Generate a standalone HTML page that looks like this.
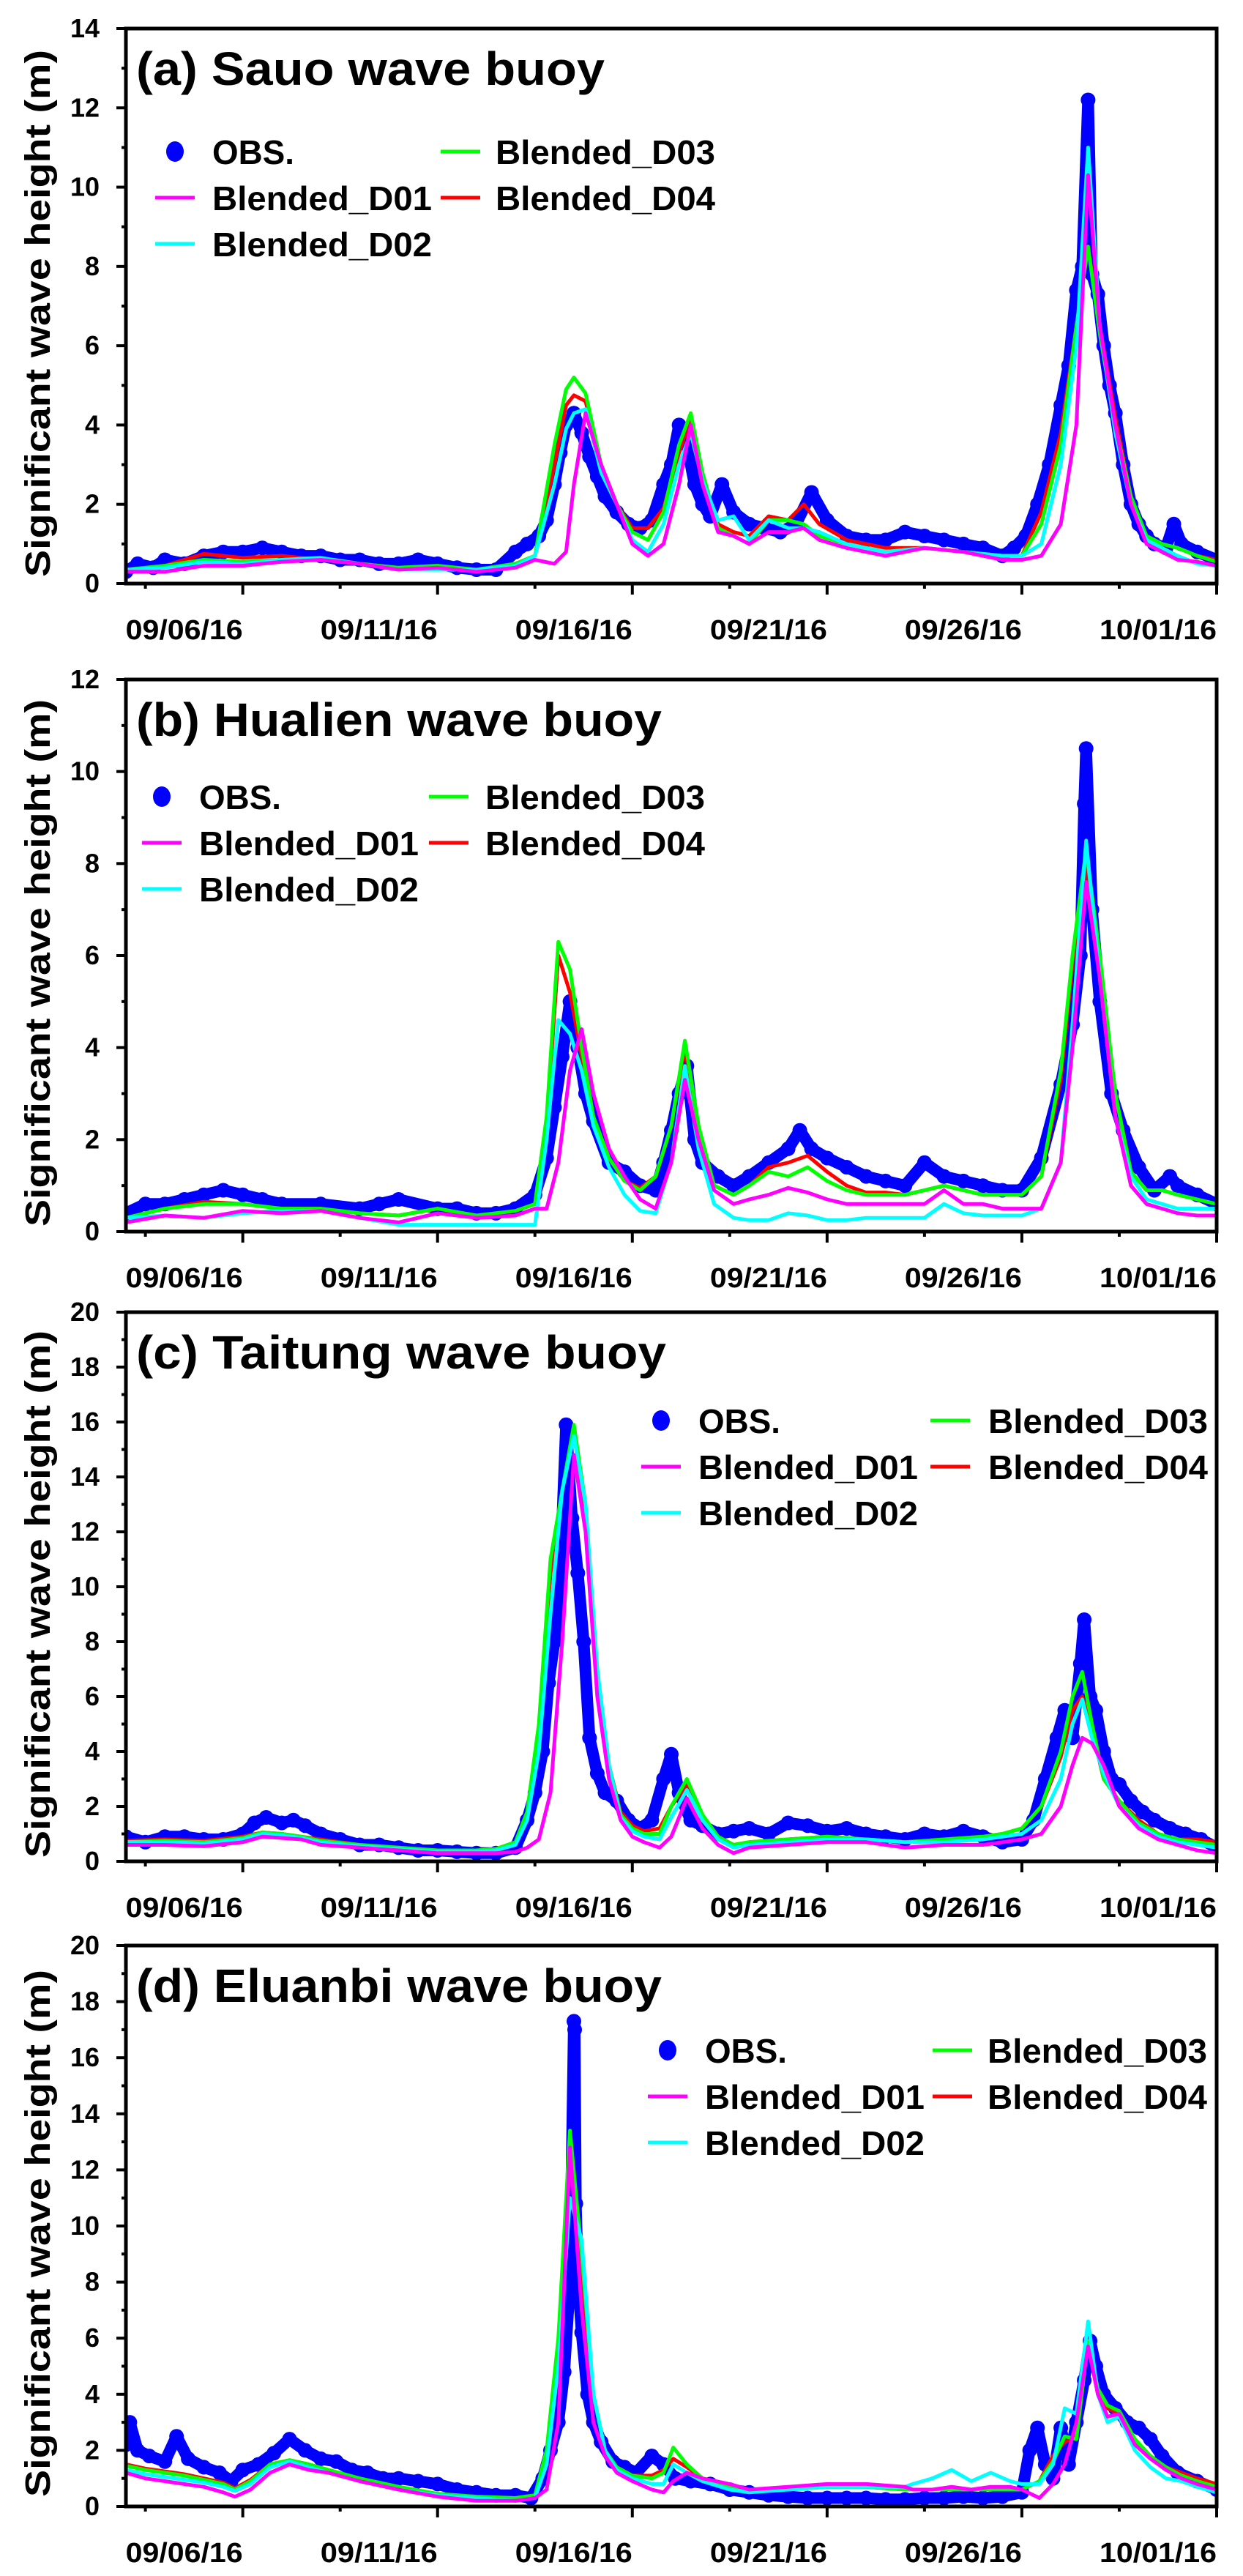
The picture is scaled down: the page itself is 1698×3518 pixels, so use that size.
<!DOCTYPE html>
<html><head><meta charset="utf-8"><style>
html,body{margin:0;padding:0;background:#fff;}
svg{display:block;}
text{font-family:"Liberation Sans Narrow","Liberation Sans",sans-serif;font-weight:bold;fill:#000;}
.yt{font-family:"Liberation Sans",sans-serif;}
</style></head><body>
<svg id="fig" xmlns="http://www.w3.org/2000/svg" width="1698" height="3518" viewBox="0 0 1698 3518"></svg>
<script>
// ---------- data (time in day-of-September; 31 = 10/01) ----------
const xTickDays = [6, 11, 16, 21, 26, 31];
const xTickLabels = ["09/06/16", "09/11/16", "09/16/16", "09/21/16", "09/26/16", "10/01/16"];
const seriesNames = ["Blended_D01", "Blended_D02", "Blended_D03", "Blended_D04"];

// Panel (a) Sauo
const timeA = [3,4,5,6,7,8,9,10,11,12,13,13.5,14,14.3,14.5,14.8,15.2,15.6,16,16.4,16.8,17.2,17.5,17.8,18.2,18.6,19,19.5,20,20.4,20.8,21.5,22.5,23.5,24.5,25.5,26,26.5,27,27.4,27.7,28,28.4,28.8,29.2,29.6,30,30.5,31];
const d01A = [.3,.3,.45,.45,.55,.6,.5,.35,.4,.3,.4,.6,.5,.8,2.5,4.3,3.0,2.0,1.0,.7,1.0,2.5,4.0,2.5,1.3,1.2,1.0,1.3,1.3,1.4,1.1,.9,.7,.9,.8,.6,.6,.7,1.5,4.0,10.3,6.5,4.0,2.0,1.0,.8,.6,.55,.45];
const d02A = [.35,.4,.55,.5,.6,.65,.5,.35,.35,.35,.45,.7,2.5,3.9,4.3,4.4,2.8,2.0,1.1,.8,1.5,3.0,3.8,2.6,1.6,1.7,1.1,1.6,1.4,1.4,1.3,1.0,.8,.9,.8,.7,.7,1.0,3.0,6.0,11.0,6.5,3.8,2.0,1.1,.9,.7,.5,.45];
const d03A = [.35,.45,.6,.55,.6,.6,.5,.4,.45,.35,.5,.7,3.5,4.9,5.2,4.8,3.0,2.0,1.3,1.1,1.8,3.5,4.3,2.8,1.4,1.2,1.0,1.6,1.6,1.5,1.2,1.0,.8,.9,.8,.7,.7,1.5,3.5,6.5,8.5,6.3,4.0,2.2,1.2,1.0,.9,.7,.55];
const d04A = [.35,.45,.75,.65,.7,.6,.5,.4,.45,.35,.5,.7,3.0,4.5,4.75,4.6,3.0,2.0,1.4,1.4,1.9,3.3,4.2,2.7,1.5,1.3,1.2,1.7,1.6,2.0,1.5,1.1,.9,.9,.8,.7,.7,1.8,3.8,6.5,8.5,6.5,4.2,2.2,1.2,1.0,.9,.7,.6];
const obsTimeA = [3,3.3,3.7,4,4.5,5,5.5,6,6.5,7,7.5,8,8.5,9,9.5,10,10.5,11,11.5,12,12.5,13,13.3,13.6,13.8,14,14.15,14.3,14.5,14.7,14.9,15.1,15.3,15.6,15.9,16.2,16.5,16.8,17.0,17.2,17.4,17.6,17.8,18.0,18.3,18.6,19,19.4,19.8,20.2,20.6,21,21.5,22,22.5,23,23.5,24,24.5,25,25.5,25.8,26.1,26.4,26.7,27,27.2,27.4,27.55,27.7,27.8,27.95,28.1,28.25,28.4,28.6,28.8,29,29.2,29.4,29.7,29.9,30.1,30.5,31];
const obsA = [.3,.5,.4,.6,.5,.7,.8,.8,.9,.8,.7,.7,.6,.6,.5,.5,.6,.5,.4,.35,.35,.8,1.0,1.2,1.6,2.5,3.3,4.0,4.3,3.8,3.2,2.7,2.2,1.8,1.5,1.4,1.6,2.5,3.0,4.0,3.5,2.5,2.0,1.7,2.5,1.8,1.5,1.4,1.3,1.5,2.3,1.6,1.2,1.1,1.1,1.3,1.2,1.1,1.0,.9,.7,.9,1.2,2.0,3.0,4.5,5.5,7.4,8.0,12.2,7.8,7.3,6.0,5.0,4.3,3.0,2.0,1.5,1.2,1.0,.9,1.5,1.0,.8,.6];

// Panel (b) Hualien
const timeB = [3,4,5,6,7,8,9,10,11,12,13,13.5,13.8,14.1,14.4,14.7,15,15.4,15.8,16.2,16.6,17,17.35,17.7,18.1,18.6,19,19.5,20,20.5,21,21.5,22,22.5,23,23.5,24,24.5,25,25.5,26,26.5,27,27.3,27.65,28,28.4,28.8,29.2,29.6,30,30.5,31];
const d01B = [.2,.35,.3,.45,.4,.45,.3,.2,.4,.3,.35,.5,.5,1.5,3.5,4.4,3.0,1.8,1.2,.7,.5,1.5,3.3,2.0,.9,.6,.7,.8,.95,.85,.7,.6,.6,.6,.6,.6,.9,.6,.6,.5,.5,.5,1.5,4.0,7.6,5.5,2.5,1.0,.6,.5,.4,.35,.35];
const d02B = [.3,.35,.3,.4,.45,.45,.3,.15,.15,.15,.15,.15,2.0,4.6,4.3,3.5,2.3,1.4,.8,.45,.4,1.5,3.6,1.8,.6,.3,.25,.25,.4,.35,.25,.25,.3,.3,.3,.3,.6,.4,.35,.35,.35,.5,1.5,4.5,8.5,5.5,2.5,1.2,.7,.6,.5,.5,.5];
const d03B = [.3,.5,.6,.6,.5,.5,.4,.35,.5,.35,.45,.6,2.5,6.3,5.7,4.0,2.5,1.6,1.1,.9,1.2,2.3,4.15,2.3,1.0,.8,1.0,1.3,1.2,1.4,1.1,.9,.8,.8,.8,.9,1.0,.9,.8,.8,.8,1.2,3.5,6.0,8.3,6.0,3.0,1.3,.9,.9,.8,.7,.6];
const d04B = [.3,.5,.65,.6,.5,.5,.4,.35,.5,.35,.45,.6,2.3,6.0,5.2,3.8,2.4,1.6,1.1,.95,1.2,2.3,4.0,2.2,1.0,.8,1.0,1.4,1.5,1.65,1.3,1.0,.85,.85,.8,.9,1.0,.9,.8,.8,.8,1.2,3.3,5.8,8.0,5.8,3.0,1.3,.9,.9,.8,.7,.6];
const obsTimeB = [3,3.5,4,4.5,5,5.5,6,6.5,7,8,9,9.5,10,11,11.5,12,12.5,13,13.5,13.8,14.0,14.2,14.4,14.6,14.8,15,15.4,15.8,16.2,16.6,16.8,17,17.2,17.4,17.6,17.8,18.2,18.6,19,19.5,20,20.3,20.6,21,21.5,22,22.5,23,23.5,24,24.5,25,25.5,26,26.5,27,27.3,27.5,27.6,27.65,27.8,28,28.3,28.6,29,29.4,29.8,30,30.5,31];
const obsB = [.4,.6,.6,.7,.8,.9,.8,.7,.6,.6,.5,.6,.7,.5,.5,.4,.4,.5,.8,1.6,2.7,3.8,5.0,4.0,3.0,2.4,1.5,1.3,1.0,.9,1.5,2.2,3.0,3.6,2.0,1.5,1.2,1.0,1.2,1.5,1.8,2.2,1.8,1.6,1.4,1.2,1.1,1.0,1.5,1.2,1.1,1.0,.9,.9,1.6,3.2,4.5,6.0,9.3,10.5,7.0,5.0,3.0,2.2,1.4,.9,1.2,1.0,.8,.6];

// Panel (c) Taitung
const timeC = [3,4,5,6,6.5,7,7.5,8,9,10,11,12,12.5,13,13.3,13.6,13.9,14.2,14.5,14.8,15.1,15.4,15.7,16,16.3,16.7,17,17.4,17.8,18.2,18.6,19,20,21,22,23,24,25,25.5,26,26.5,27,27.3,27.55,27.8,28.1,28.5,29,29.5,30,30.5,31];
const d01C = [.6,.6,.55,.7,.9,.85,.8,.6,.5,.4,.3,.3,.3,.35,.5,.8,2.5,8.0,14.8,12.0,6.0,3.0,1.5,.9,.7,.5,.9,2.3,1.2,.6,.3,.5,.6,.7,.7,.5,.6,.6,.7,.8,1.0,2.0,3.5,4.5,4.3,3.5,2.0,1.2,.8,.6,.4,.3];
const d02C = [.7,.7,.65,.8,1.0,.95,.85,.7,.55,.45,.35,.35,.4,.6,1.5,4.0,9.0,13.5,15.5,13.0,7.0,3.5,1.6,1.1,.9,.8,1.6,2.6,1.5,.8,.5,.6,.7,.8,.8,.7,.7,.8,.9,1.0,1.5,3.0,5.0,5.9,4.5,3.2,2.0,1.3,.9,.7,.6,.5];
const d03C = [.7,.75,.7,.85,1.05,1.0,.9,.75,.6,.5,.4,.4,.45,.7,1.8,5.0,11.0,13.5,15.9,13.0,7.0,3.5,1.7,1.2,1.0,1.0,2.0,3.0,1.7,.9,.6,.7,.8,.9,.8,.7,.8,.9,1.0,1.2,2.0,4.0,6.0,6.9,5.0,3.0,2.2,1.4,1.0,.8,.7,.6];
const d04C = [.75,.8,.75,.9,1.05,1.0,.9,.8,.6,.5,.4,.4,.45,.7,1.7,4.8,10.5,13.5,15.6,12.5,6.8,3.5,1.8,1.3,1.1,1.2,2.0,2.8,1.6,.9,.6,.7,.8,.9,.8,.7,.8,.9,1.0,1.2,2.0,3.8,5.5,6.0,4.8,3.0,2.2,1.5,1.0,.8,.8,.7];
const obsTimeC = [3,3.5,4,4.5,5,5.5,6,6.3,6.6,7,7.3,7.6,8,8.5,9,9.5,10,10.5,11,11.5,12,12.5,13,13.3,13.5,13.7,13.85,14,14.15,14.3,14.45,14.6,14.75,14.9,15.1,15.3,15.6,15.9,16.2,16.5,16.8,17,17.2,17.5,17.8,18.2,18.6,19,19.5,20,20.5,21,21.5,22,22.5,23,23.5,24,24.5,25,25.5,26,26.3,26.6,26.9,27.1,27.3,27.5,27.6,27.75,27.9,28.1,28.3,28.5,28.8,29.1,29.4,29.8,30.2,30.6,31];
const obsC = [.9,.7,.9,.9,.8,.8,1.0,1.4,1.6,1.4,1.5,1.3,1.0,.8,.6,.6,.5,.4,.4,.35,.3,.3,.5,1.5,2.5,4.0,6.5,8.0,10.5,15.9,12.5,10.5,8.0,4.5,3.2,2.5,2.2,1.5,1.2,1.5,3.0,3.9,2.5,1.5,1.3,1.0,1.1,1.2,1.0,1.4,1.3,1.1,1.2,1.0,.9,.8,1.0,.9,1.1,.9,.7,.8,1.5,3.0,4.5,5.5,4.5,7.2,8.8,6.0,5.5,4.0,3.0,2.8,2.2,1.8,1.5,1.2,1.0,.8,.5];

// Panel (d) Eluanbi
const timeD = [3,3.5,4,4.5,5,5.5,5.8,6.2,6.7,7.2,7.7,8.2,9,10,11,12,13,13.5,13.8,14.1,14.4,14.7,15,15.3,15.6,16,16.5,16.8,17.05,17.4,17.8,18.5,19,20,21,22,23,23.2,23.7,24.2,24.7,25.2,25.7,26,26.45,26.8,27.1,27.4,27.7,27.95,28.2,28.5,28.9,29.3,29.7,30.1,30.5,31];
const d01D = [1.2,1.0,.9,.8,.7,.5,.35,.6,1.2,1.5,1.3,1.2,.9,.6,.35,.2,.2,.3,.6,3.0,12.8,7.0,3.0,1.8,1.2,.9,.6,.5,.9,1.2,1.0,.8,.6,.7,.8,.8,.7,.6,.6,.7,.6,.7,.7,.6,.3,.8,1.5,3.0,5.7,4.0,3.2,3.3,2.2,1.7,1.3,1.0,.8,.6];
const d02D = [1.3,1.15,1.05,.95,.85,.7,.55,.8,1.4,1.6,1.4,1.2,.9,.6,.4,.3,.2,.3,1.5,5.0,11.0,9.5,4.0,2.0,1.3,1.0,.8,.8,1.5,1.2,.9,.6,.5,.6,.7,.7,.7,.8,1.0,1.3,.9,1.2,.9,.8,.8,1.5,3.5,3.3,6.6,4.0,3.0,3.2,2.0,1.4,1.0,.9,.7,.5];
const d03D = [1.45,1.3,1.2,1.1,.95,.8,.6,.9,1.5,1.65,1.5,1.3,1.0,.7,.45,.35,.3,.4,2.0,6.0,13.4,9.0,4.0,2.0,1.4,1.1,1.0,1.2,2.1,1.5,1.0,.7,.6,.6,.7,.7,.6,.6,.6,.6,.6,.6,.6,.6,.9,1.6,2.5,2.4,5.9,4.2,3.6,3.4,2.4,1.8,1.4,1.1,.9,.7];
const d04D = [1.5,1.35,1.25,1.15,1.0,.85,.65,.95,1.5,1.65,1.5,1.3,1.0,.7,.45,.35,.3,.4,1.8,5.5,12.5,8.5,4.0,2.0,1.4,1.1,1.1,1.3,1.7,1.4,1.0,.7,.6,.6,.7,.7,.6,.6,.6,.6,.6,.6,.6,.6,.9,1.8,2.3,2.5,5.9,4.0,3.5,3.3,2.3,1.8,1.4,1.2,1.0,.8];
const obsTimeD = [3,3.1,3.3,3.6,4,4.3,4.6,5,5.4,5.7,6,6.4,6.8,7.2,7.6,8,8.4,8.8,9.2,9.6,10,10.5,11,11.5,12,12.5,13,13.4,13.7,13.9,14.1,14.25,14.4,14.5,14.52,14.55,14.6,14.7,14.85,15.0,15.2,15.5,15.8,16.1,16.5,16.8,17.1,17.5,18,18.5,19,19.5,20,20.5,21,21.5,22,22.5,23,23.5,24,24.5,25,25.5,26,26.2,26.4,26.6,26.8,27.0,27.2,27.4,27.6,27.75,27.9,28.1,28.4,28.7,29,29.3,29.6,30,30.5,31];
const obsD = [2.2,3.0,2.0,1.8,1.6,2.5,1.7,1.4,1.2,.9,1.3,1.5,1.9,2.4,2.0,1.7,1.6,1.3,1.2,1.0,1.0,.9,.8,.6,.5,.4,.4,.3,1.0,2.0,3.0,4.8,8.0,17.3,17.0,10.8,8.2,6.2,4.0,3.0,2.3,1.6,1.4,1.2,1.8,1.5,1.0,.9,.8,.6,.5,.4,.35,.3,.3,.3,.3,.25,.25,.3,.3,.35,.3,.35,.5,2.0,2.8,1.5,1.0,2.8,1.5,3.0,4.5,5.9,5.0,4.0,3.5,3.0,2.8,2.4,1.8,1.2,.9,.6];

// ---------- drawing ----------
const NS = "http://www.w3.org/2000/svg";
const svg = document.getElementById("fig");
const X0 = 172, X1 = 1662, DAY0 = 3, DAY1 = 31;
function xs(day) { return X0 + (day - DAY0) / (DAY1 - DAY0) * (X1 - X0); }
function mk(tag, attrs, parent) {
  const e = document.createElementNS(NS, tag);
  for (const k in attrs) e.setAttribute(k, attrs[k]);
  (parent || svg).appendChild(e);
  return e;
}
const colors = ["#ff00ff", "#00ffff", "#00ff00", "#ff0000"];
const panels = [
  {id: "a", title: "(a) Sauo wave buoy", titleLen: 640, top: 39, bottom: 797, ymax: 14, major: 2, minor: 1,
   t: timeA, s: [d01A, d02A, d03A, d04A], ot: obsTimeA, o: obsA,
   leg: {mx: 239, my: 207, c2: 602, tx2: 677}},
  {id: "b", title: "(b) Hualien wave buoy", titleLen: 718, top: 928, bottom: 1682, ymax: 12, major: 2, minor: 1,
   t: timeB, s: [d01B, d02B, d03B, d04B], ot: obsTimeB, o: obsB,
   leg: {mx: 221, my: 1088, c2: 586, tx2: 663}},
  {id: "c", title: "(c) Taitung wave buoy", titleLen: 724, top: 1792, bottom: 2542, ymax: 20, major: 2, minor: 1,
   t: timeC, s: [d01C, d02C, d03C, d04C], ot: obsTimeC, o: obsC,
   leg: {mx: 903, my: 1940, c2: 1271, tx2: 1350}},
  {id: "d", title: "(d) Eluanbi wave buoy", titleLen: 718, top: 2657, bottom: 3423, ymax: 20, major: 2, minor: 1,
   t: timeD, s: [d01D, d02D, d03D, d04D], ot: obsTimeD, o: obsD,
   leg: {mx: 912, my: 2800, c2: 1274, tx2: 1349}}
];

panels.forEach(p => {
  const g = mk("g", {});
  
  
  const ys = v => p.bottom - v / p.ymax * (p.bottom - p.top);
  const clipId = "clip" + p.id;
  const cp = mk("clipPath", {id: clipId}, g);
  mk("rect", {x: X0, y: p.top - 30, width: X1 - X0, height: p.bottom - p.top + 30}, cp);

  // observations
  const og = mk("g", {"clip-path": "url(#" + clipId + ")"}, g);
  
  
  const n = Math.min(p.ot.length, p.o.length);
  let pts = [];
  for (let i = 0; i < n; i++) pts.push(xs(p.ot[i]).toFixed(1) + "," + ys(p.o[i]).toFixed(1));
  const band = mk("polyline", {points: pts.join(" "), fill: "none", stroke: "#0000ff", "stroke-width": 16, "stroke-linejoin": "round", "stroke-linecap": "round"}, og);
  
  
  for (let i = 0; i < n; i++) {
    const c = mk("circle", {cx: xs(p.ot[i]).toFixed(1), cy: ys(p.o[i]).toFixed(1), r: 10, fill: "#0000ff"}, og);
    
    
  }
  // model lines: draw order red, green, cyan, magenta
  [3, 2, 1, 0].forEach(si => {
    const vals = p.s[si];
    const m = Math.min(p.t.length, vals.length);
    let lp = [];
    for (let i = 0; i < m; i++) lp.push(xs(p.t[i]).toFixed(1) + "," + ys(vals[i]).toFixed(1));
    const pl = mk("polyline", {points: lp.join(" "), fill: "none", stroke: colors[si], "stroke-width": 5, "stroke-linejoin": "round", "clip-path": "url(#" + clipId + ")"}, g);
    
    
  });

  // frame
  const fr = mk("rect", {x: X0, y: p.top, width: X1 - X0, height: p.bottom - p.top, fill: "none", stroke: "#000", "stroke-width": 5}, g);
  
  

  // y ticks
  for (let v = 0; v <= p.ymax + 1e-9; v += p.minor) {
    const isMajor = Math.abs(v / p.major - Math.round(v / p.major)) < 1e-6;
    const y = ys(v);
    mk("line", {x1: X0 - (isMajor ? 13 : 6), x2: X0, y1: y, y2: y, stroke: "#000", "stroke-width": 4}, g);
    if (isMajor) {
      const t = mk("text", {x: 136, y: y + 12, "text-anchor": "end", "font-size": 36}, g);
      t.textContent = String(v);
      
      
    }
  }
  // x ticks
  for (let d = 3.5; d <= DAY1 + 1e-9; d += 2.5) {
    const isMajor = xTickDays.some(m => Math.abs(m - d) < 1e-6);
    const x = xs(d);
    mk("line", {x1: x, x2: x, y1: p.bottom, y2: p.bottom + (isMajor ? 15 : 7), stroke: "#000", "stroke-width": 4}, g);
  }
  xTickDays.forEach((d, i) => {
    const t = mk("text", {x: xs(d), y: p.bottom + 76, "text-anchor": "end", "font-size": 38, textLength: 160, lengthAdjust: "spacingAndGlyphs"}, g);
    t.textContent = xTickLabels[i];
    
    
  });

  // y-axis title
  const cy = (p.top + p.bottom) / 2 + 10;
  const yt = mk("text", {x: 0, y: 0, "text-anchor": "middle", "font-size": 48, class: "yt", transform: "translate(68," + cy + ") rotate(-90)", textLength: 720, lengthAdjust: "spacingAndGlyphs"}, g);
  yt.textContent = "Significant wave height (m)";
  
  

  // panel title
  const tt = mk("text", {x: 186, y: p.top + 77, "font-size": 64, textLength: p.titleLen, lengthAdjust: "spacingAndGlyphs"}, g);
  tt.textContent = p.title;
  
  

  // legend
  const L = p.leg;
  const lg = mk("g", {}, g);
  
  
  const rowH = 63;
  const entries = [
    {kind: "dot", x: L.mx, tx: L.mx + 51, y: L.my, label: "OBS.", len: 112},
    {kind: "line", c: colors[0], x: L.mx, tx: L.mx + 51, y: L.my + rowH, label: seriesNames[0], len: 300},
    {kind: "line", c: colors[1], x: L.mx, tx: L.mx + 51, y: L.my + 2 * rowH, label: seriesNames[1], len: 300},
    {kind: "line", c: colors[2], x: L.c2 + 27, tx: L.tx2, y: L.my, label: seriesNames[2], len: 300},
    {kind: "line", c: colors[3], x: L.c2 + 27, tx: L.tx2, y: L.my + rowH, label: seriesNames[3], len: 300}
  ];
  entries.forEach(e => {
    const eg = mk("g", {}, lg);
    
    
    if (e.kind === "dot") mk("ellipse", {cx: e.x, cy: e.y, rx: 12, ry: 14, fill: "#0000ff"}, eg);
    else mk("line", {x1: e.x - 27, x2: e.x + 27, y1: e.y, y2: e.y, stroke: e.c, "stroke-width": 5}, eg);
    const t = mk("text", {x: e.tx, y: e.y + 17, "font-size": 46, textLength: e.len, lengthAdjust: "spacingAndGlyphs"}, eg);
    t.textContent = e.label;
  });
});
</script>
</body></html>
